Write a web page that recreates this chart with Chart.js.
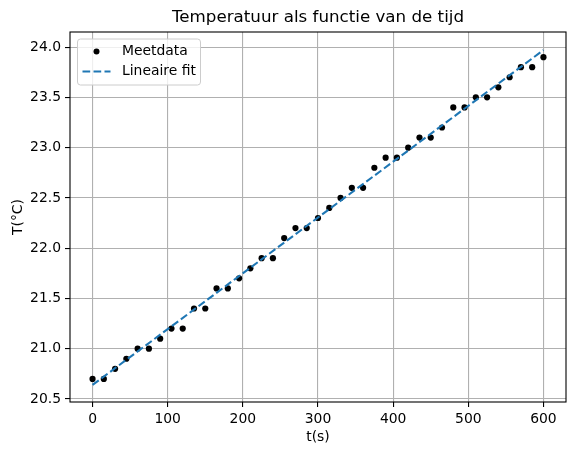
<!DOCTYPE html>
<html>
<head>
<meta charset="utf-8">
<script src="https://cdn.jsdelivr.net/npm/chart.js@4"></script>
<style>
  html, body { margin: 0; padding: 0; background: #fff; }
  #wrap { width: 576px; height: 455px; position: relative; }
  canvas { display: block; }
</style>
</head>
<body>
<div id="wrap"><canvas id="c" width="576" height="455"></canvas></div>
<script>
// ---- Data ----
const timeS = [0, 15, 30, 45, 60, 75, 90, 105, 120, 135, 150, 165, 180, 195, 210, 225, 240, 255, 270, 285, 300,
               315, 330, 345, 360, 375, 390, 405, 420, 435, 450, 465, 480, 495, 510, 525, 540, 555, 570, 585, 600];
const tempC = [20.7, 20.7, 20.8, 20.9, 21.0, 21.0, 21.1, 21.2, 21.2, 21.4, 21.4, 21.6, 21.6, 21.7, 21.8, 21.9, 21.9,
               22.1, 22.2, 22.2, 22.3, 22.4, 22.5, 22.6, 22.6, 22.8, 22.9, 22.9, 23.0, 23.1, 23.1, 23.2, 23.4, 23.4,
               23.5, 23.5, 23.6, 23.7, 23.8, 23.8, 23.9];
const fitT = [0, 600];
const fitTemp = [20.64, 23.97];
const xTicks = [0, 100, 200, 300, 400, 500, 600];
const yTicks = [20.5, 21.0, 21.5, 22.0, 22.5, 23.0, 23.5, 24.0];
const seriesLabels = ['Meetdata', 'Lineaire fit'];
const titleText = 'Temperatuur als functie van de tijd';
const xTitle = 't(s)';
const yTitle = 'T(°C)';

const FONT = 'DejaVu Sans';
const FS = 13.9;

const overlay = {
  id: 'overlay',
  afterDraw(chart) {
    const ctx = chart.ctx;
    const a = chart.chartArea;
    ctx.save();
    // axes frame
    ctx.strokeStyle = '#000';
    ctx.lineWidth = 1.1;
    ctx.strokeRect(a.left, a.top, a.right - a.left, a.bottom - a.top);
    // title
    ctx.fillStyle = '#000';
    ctx.font = '16.7px "' + FONT + '"';
    ctx.textAlign = 'center';
    ctx.textBaseline = 'middle';
    ctx.fillText(titleText, (a.left + a.right) / 2, 18);
    // legend
    const bx = a.left + 7.5, by = a.top + 7, bw = 123, bh = 46;
    ctx.beginPath();
    if (ctx.roundRect) ctx.roundRect(bx, by, bw, bh, 3); else ctx.rect(bx, by, bw, bh);
    ctx.fillStyle = 'rgba(255,255,255,0.8)';
    ctx.fill();
    ctx.strokeStyle = '#cccccc';
    ctx.lineWidth = 1;
    ctx.stroke();
    const ds = chart.data.datasets;
    // entry 1: marker
    ctx.fillStyle = '#000';
    ctx.beginPath();
    ctx.arc(bx + 19, by + 12.5, 3, 0, Math.PI * 2);
    ctx.fill();
    // entry 2: dashed line
    ctx.strokeStyle = '#1f77b4';
    ctx.lineWidth = 2.08;
    ctx.setLineDash([7.7, 3.3]);
    ctx.beginPath();
    ctx.moveTo(bx + 5, by + 32.5);
    ctx.lineTo(bx + 33, by + 32.5);
    ctx.stroke();
    ctx.setLineDash([]);
    ctx.fillStyle = '#000';
    ctx.font = FS + 'px "' + FONT + '"';
    ctx.textAlign = 'left';
    ctx.textBaseline = 'middle';
    ctx.fillText(ds[1].label, bx + 44.5, by + 12.5);
    ctx.fillText(ds[0].label, bx + 44.5, by + 32.5);
    ctx.restore();
  }
};

const chart = new Chart(document.getElementById('c'), {
  type: 'scatter',
  data: {
    datasets: [
      {
        label: seriesLabels[1],
        data: fitT.map((t, i) => ({ x: t, y: fitTemp[i] })),
        showLine: true,
        borderColor: '#1f77b4',
        borderWidth: 2.08,
        borderDash: [7.7, 3.3],
        pointRadius: 0,
        fill: false,
        order: 0
      },
      {
        label: seriesLabels[0],
        data: timeS.map((t, i) => ({ x: t, y: tempC[i] })),
        backgroundColor: '#000',
        borderColor: '#000',
        pointRadius: 3.1,
        pointBorderWidth: 0,
        showLine: false,
        order: 1
      }
    ]
  },
  options: {
    responsive: false,
    animation: false,
    devicePixelRatio: 1,
    layout: { padding: { left: 0, right: 10, top: 32, bottom: 0 } },
    plugins: {
      legend: { display: false },
      title: { display: false },
      tooltip: { enabled: false }
    },
    scales: {
      x: {
        type: 'linear',
        min: -30, max: 630,
        afterBuildTicks: s => { s.ticks = xTicks.map(v => ({ value: v })); },
        afterFit: s => { s.height = 53; },
        grid: { color: '#b0b0b0', lineWidth: 1.1, tickColor: '#000', tickWidth: 1.1, tickLength: 5, drawTicks: true },
        border: { display: false },
        ticks: { color: '#000', font: { family: FONT, size: FS }, padding: 4, maxRotation: 0, callback: v => String(v) },
        title: { display: true, text: xTitle, color: '#000', font: { family: FONT, size: FS }, padding: { top: 0, bottom: 9 } }
      },
      y: {
        type: 'linear',
        min: 20.47, max: 24.15,
        afterBuildTicks: s => { s.ticks = yTicks.map(v => ({ value: v })); },
        afterFit: s => { s.width = 70; },
        grid: { color: '#b0b0b0', lineWidth: 1.1, tickColor: '#000', tickWidth: 1.1, tickLength: 5, drawTicks: true },
        border: { display: false },
        ticks: { color: '#000', font: { family: FONT, size: FS }, padding: 4, callback: v => Number(v).toFixed(1) },
        title: { display: true, text: yTitle, color: '#000', font: { family: FONT, size: FS }, padding: { top: 10, bottom: 0 } }
      }
    }
  },
  plugins: [overlay]
});
</script>
</body>
</html>
